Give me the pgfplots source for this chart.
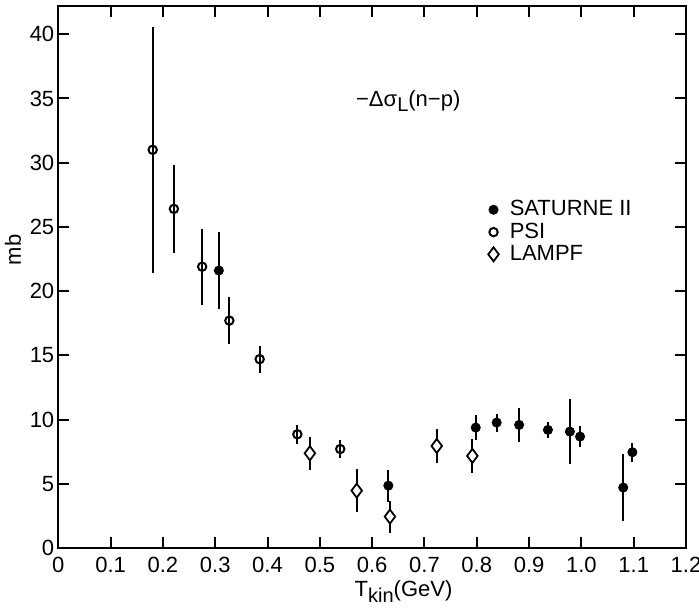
\documentclass[border=0pt]{standalone}
\usepackage{fontspec}
\setmainfont{Liberation Sans}
\usepackage{pgfplots}
\pgfplotsset{compat=1.18}
\usepackage{pgfplotstable}
\usetikzlibrary{calc}
\pgfplotstableread{
x y e
0.307 21.6 3.0
0.631 4.85 1.25
0.798 9.37 1.0
0.838 9.76 0.7
0.881 9.58 1.3
0.936 9.19 0.6
0.978 9.06 2.5
0.9975 8.67 0.85
1.080 4.7 2.6
1.0975 7.45 0.75
}\saturne
\pgfplotstableread{
x y e
0.1805 31.0 9.6
0.221 26.4 3.45
0.275 21.9 2.95
0.327 17.7 1.85
0.385 14.7 1.05
0.457 8.85 0.75
0.539 7.7 0.7
}\psi
\pgfplotstableread{
x y e
0.481 7.37 1.3
0.5705 4.46 1.7
0.634 2.44 1.25
0.7235 7.94 1.35
0.7916 7.17 1.3
}\lampf
\begin{document}
\begin{tikzpicture}
\begin{axis}[
  scale only axis,
  width=313.9pt, height=271pt,
  xmin=0, xmax=1.2, ymin=0, ymax=42.2,
  xtick={0,0.1,0.2,0.3,0.4,0.5,0.6,0.7,0.8,0.9,1.0,1.1,1.2},
  xticklabels={0,0.1,0.2,0.3,0.4,0.5,0.6,0.7,0.8,0.9,1.0,1.1,1.2},
  ytick={0,5,10,15,20,25,30,35,40},
  /pgf/number format/assume math mode=true,
  tick style={line width=1pt, black},
  major tick length=5.5pt,
  axis line style={line width=1pt},
  tick label style={font=\fontsize{11}{12}\selectfont},
  xticklabel style={yshift=-1pt},
  yticklabel style={xshift=1.5pt},
  xlabel={T\raisebox{-0.55ex}{\fontsize{10}{10}\selectfont kin}(GeV)},
  xlabel style={at={(ticklabel cs:0.55)}, anchor=north, yshift=3pt, font=\fontsize{11}{12}\selectfont},
  ylabel={mb},
  ylabel style={at={(ticklabel cs:0.55,-2.5pt)}, font=\fontsize{11}{12}\selectfont},
  legend style={draw=none, fill=none, at={(axis cs:0.822,24.6)}, anchor=west,
    inner sep=0pt, outer sep=0pt, font=\fontsize{11}{12}\selectfont,
    row sep=-2pt, column sep=3.5pt},
  legend cell align=left,
]
\addplot[black, only marks, mark=*, mark size=2.3pt,
  error bars/.cd, y dir=both, y explicit, error mark=none,
  error bar style={line width=1pt, black}]
  table[x=x, y=y, y error=e] {\saturne};
\addlegendentry{SATURNE II}
\addplot[black, only marks, mark=o, mark size=2.1pt, mark options={line width=1pt, fill=white},
  error bars/.cd, y dir=both, y explicit, error mark=none,
  error bar style={line width=1pt, black}]
  table[x=x, y=y, y error=e] {\psi};
\addlegendentry{PSI}
\addplot[black, only marks, mark=diamond*, mark size=3.5pt, mark options={line width=0.9pt, fill=white},
  error bars/.cd, y dir=both, y explicit, error mark=none,
  error bar style={line width=1pt, black}]
  table[x=x, y=y, y error=e] {\lampf};
\addlegendentry{LAMPF}
\node[font=\fontsize{11}{12}\selectfont] at (axis cs:0.669,34.8) {−Δσ\raisebox{-0.5ex}{\fontsize{10}{10}\selectfont L}(n−p)};
\end{axis}
\pgfresetboundingbox
\path ($(current axis.south west)+(-29.15pt,-30pt)$) rectangle ($(current axis.north east)+(6.5pt,3pt)$);
\end{tikzpicture}
\end{document}
